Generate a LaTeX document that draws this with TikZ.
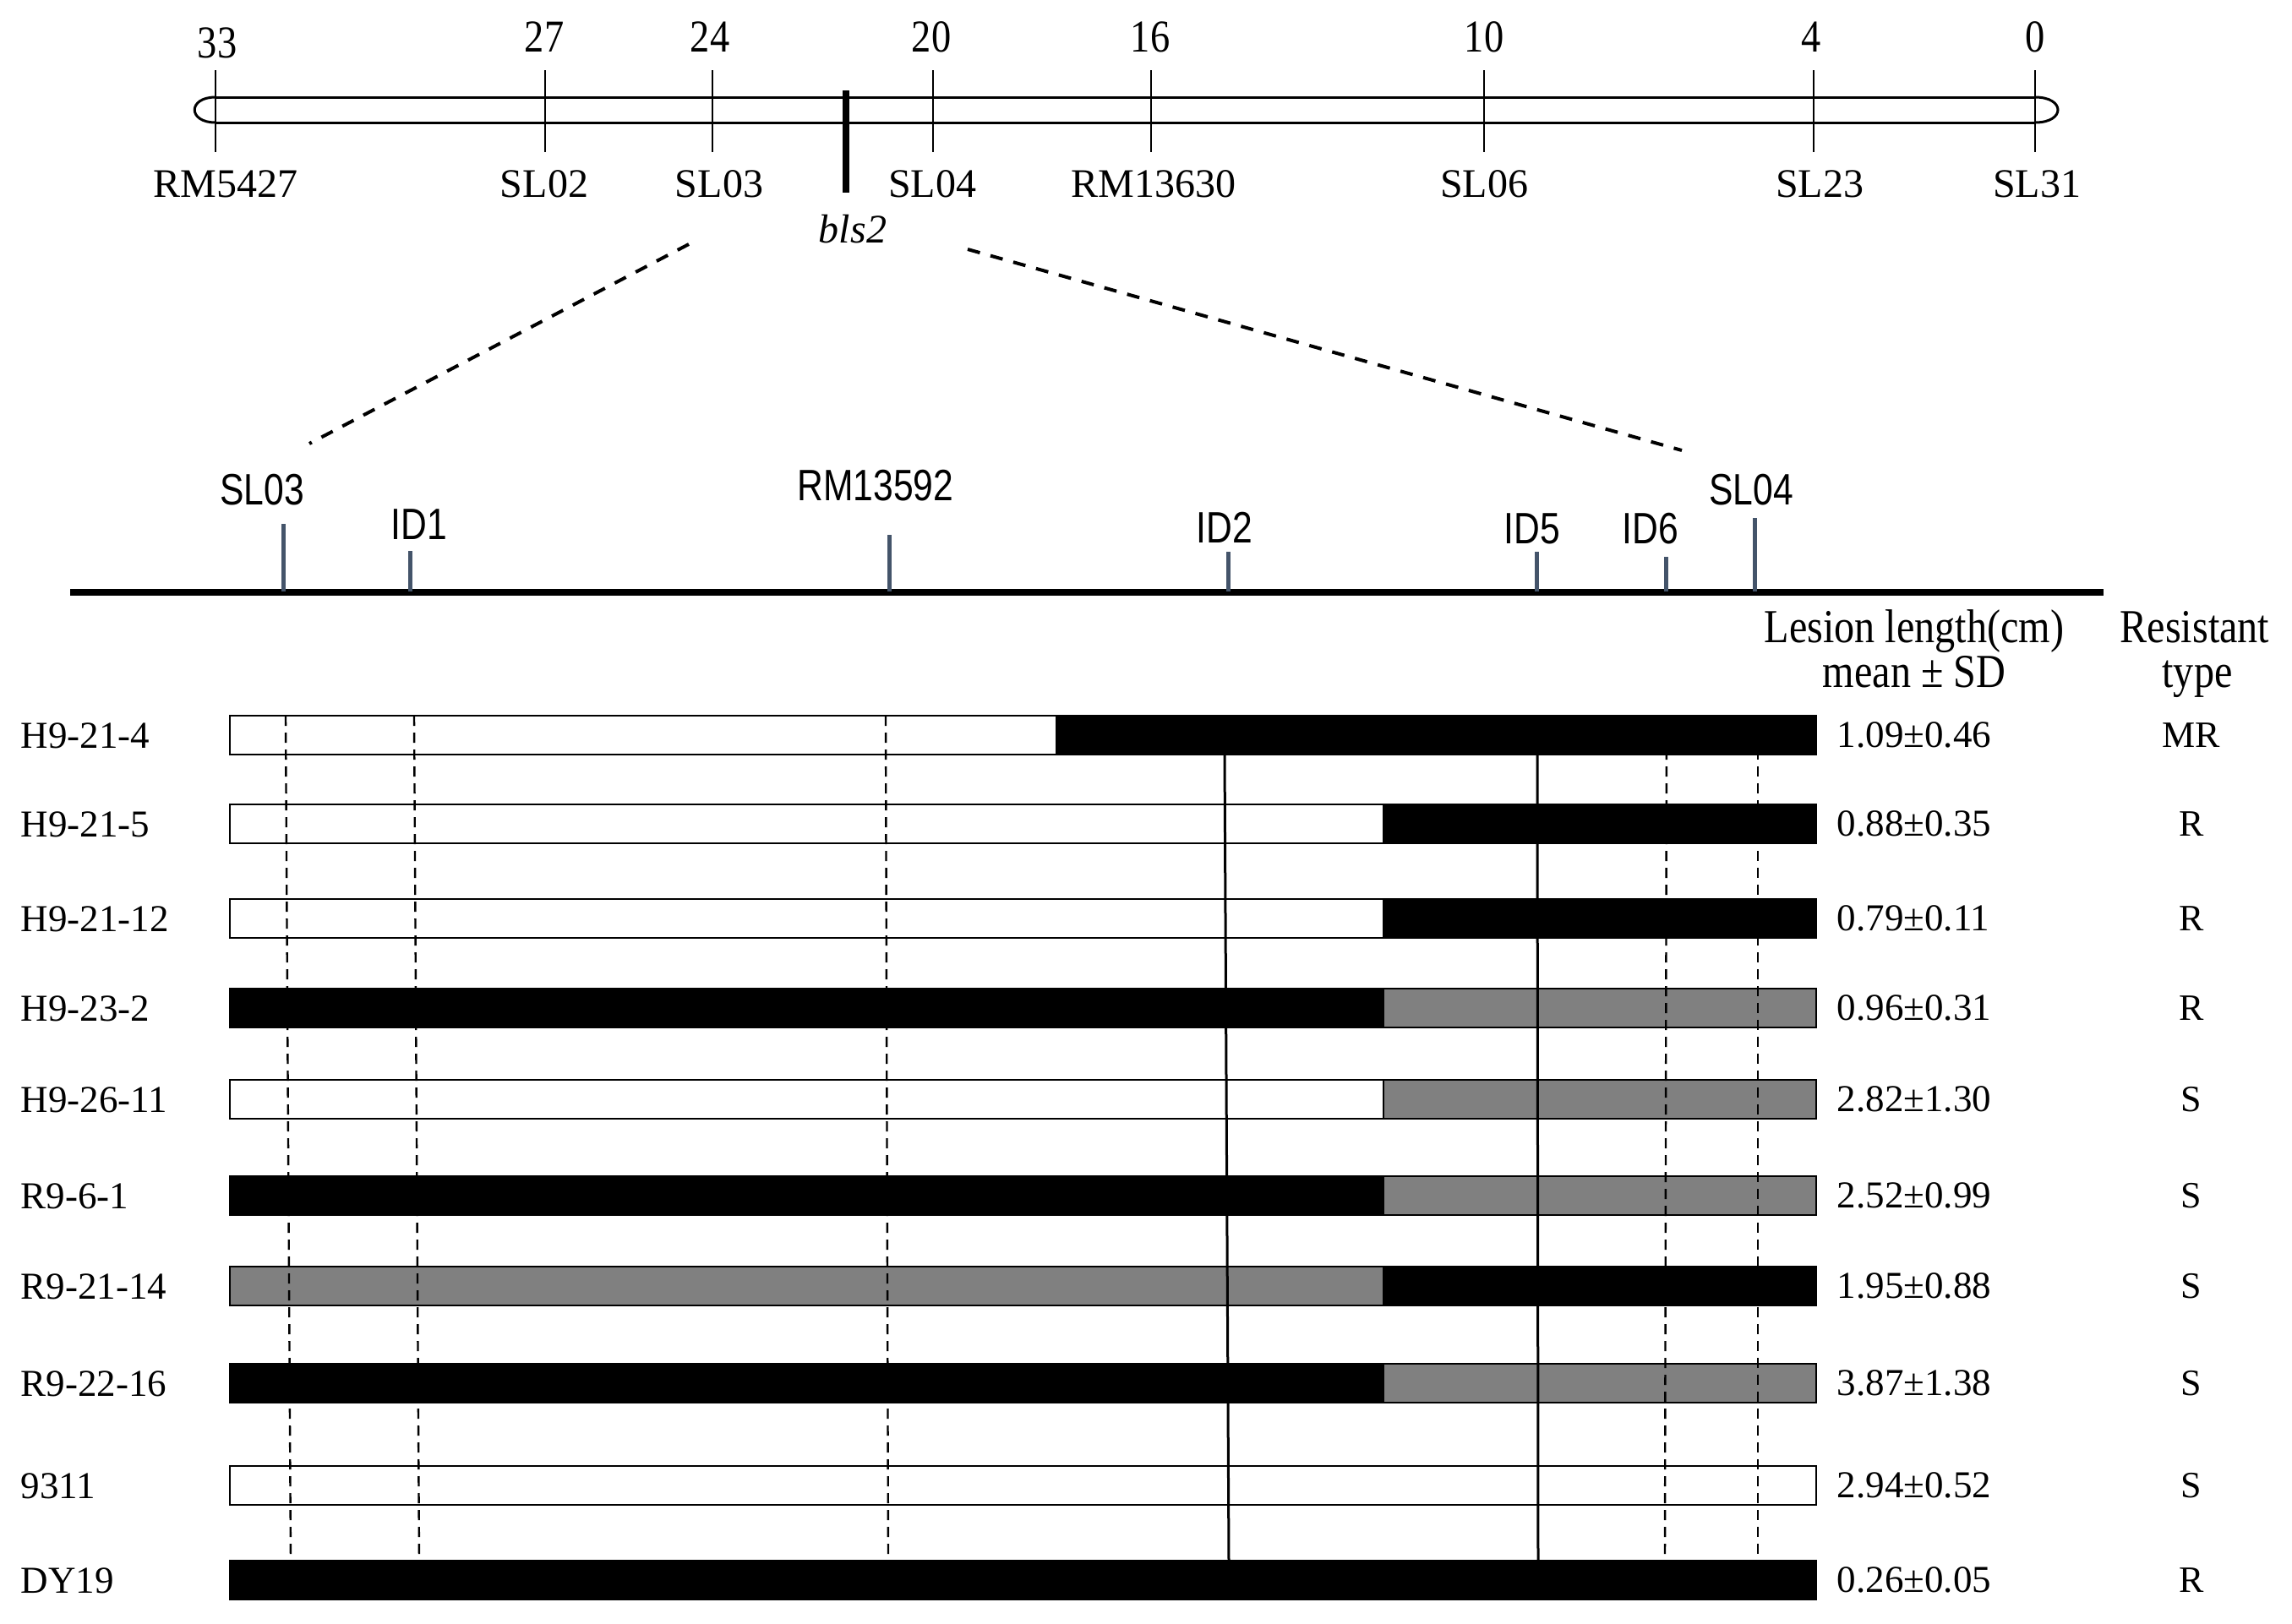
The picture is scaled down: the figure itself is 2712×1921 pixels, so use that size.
\documentclass[tikz,border=0pt]{standalone}
\usepackage{fontspec}
\setmainfont{Liberation Serif}
\newfontfamily\narrowsans[FakeStretch=0.82]{Liberation Sans}
\newfontfamily\tallserif[FakeStretch=0.86]{Liberation Serif}
\definecolor{tickblue}{RGB}{68,84,106}
\definecolor{midgray}{RGB}{128,128,128}
\begin{document}
\begin{tikzpicture}[x=0.25pt,y=-0.25pt,
  chrom/.style={line width=0.75pt},
  cmtick/.style={line width=0.65pt},
  num/.style={font=\tallserif\fontsize{13.5}{15}\selectfont, anchor=base, inner sep=0pt},
  toplab/.style={font=\fontsize{12}{14}\selectfont, anchor=base, inner sep=0pt},
  mlab/.style={font=\narrowsans\fontsize{13}{15}\selectfont, anchor=base, inner sep=0pt},
  mtick/.style={draw=tickblue, line width=1.25pt},
  seg/.style={draw=black, line width=0.7pt},
  rowlab/.style={font=\fontsize{11.25}{13}\selectfont, anchor=base west, inner sep=0pt},
  val/.style={font=\fontsize{11.25}{13}\selectfont, anchor=base west, inner sep=0pt},
  typ/.style={font=\fontsize{11}{13}\selectfont, anchor=base, inner sep=0pt},
  hdr/.style={font=\tallserif\fontsize{14}{16}\selectfont, anchor=base, inner sep=0pt},
  guidedash/.style={line width=0.6pt, dash pattern=on 3pt off 2pt},
  guidesolid/.style={line width=0.75pt},
  zoomline/.style={line width=1pt, dash pattern=on 3.75pt off 3.25pt}]
\useasboundingbox[fill=white] (0,0) rectangle (2712,1921);

% ---------- top linkage map ----------
\draw[chrom] (255,115) -- (2408,115);
\draw[chrom] (255,145) -- (2408,145);
\draw[chrom] (255,115) .. controls (222,115) and (222,145) .. (255,145);
\draw[chrom] (2408,115) .. controls (2444,115) and (2444,145) .. (2408,145);

\foreach \x/\n/\nx/\ny/\lab/\lx [count=\k] in {
  255/33/257/68/RM5427/267,
  645/27/644/61/SL02/644,
  843/24/840/61/SL03/851,
  1104/20/1102/61/SL04/1103,
  1362/16/1361/61/RM13630/1365,
  1756/10/1756/61/SL06/1756,
  2146/4/2143/61/SL23/2153,
  2408/0/2408/61/SL31/2410}{
  \draw[cmtick] (\x,83) -- (\x,180);
  \node[num] (cm\k) at (\nx,\ny) {\n};
  \node[toplab] (mk\k) at (\lx,233) {\lab};
}
\draw[line width=2pt] (1001,107) -- (1001,228);
\node[toplab, font=\itshape\fontsize{12}{14}\selectfont] (gene) at (1009,287) {bls2};

% zoom lines
\coordinate (zl1) at (815,289);
\coordinate (zl2) at (366,525);
\coordinate (zr1) at (1145,295);
\coordinate (zr2) at (1990,533);
\draw[zoomline] (zl1) -- (zl2);
\draw[zoomline] (zr1) -- (zr2);

% ---------- fine map ----------
\draw[line width=2pt] (83,701) -- (2489,701);
\foreach \x/\top/\lab/\lx/\ly [count=\k] in {
  335/620/SL03/310/597,
  485/652/ID1/496/638,
  1052/633/RM13592/1036/592,
  1453/653/ID2/1449/642,
  1818/653/ID5/1813/643,
  1971/659/ID6/1953/643,
  2076/613/SL04/2072/597}{
  \draw[mtick] (\x,\top) -- (\x,700);
  \node[mlab] (fm\k) at (\lx,\ly) {\lab};
}

% ---------- headers ----------
\node[hdr] (h1) at (2265,760) {Lesion length(cm)};
\node[hdr] (h2) at (2265,813) {mean \textpm{} SD};
\node[hdr] (h3) at (2597,760) {Resistant};
\node[hdr] (h4) at (2600,813) {type};

% ---------- graphical genotypes ----------
\foreach \yy/\lab/\ca/\cb/\sp/\val/\typ [count=\k] in {
  870/H9-21-4/white/black/1250/1.09±0.46/MR,
  975/H9-21-5/white/black/1637/0.88±0.35/R,
  1087/H9-21-12/white/black/1637/0.79±0.11/R,
  1193/H9-23-2/black/midgray/1637/0.96±0.31/R,
  1301/H9-26-11/white/midgray/1637/2.82±1.30/S,
  1415/R9-6-1/black/midgray/1637/2.52±0.99/S,
  1522/R9-21-14/midgray/black/1637/1.95±0.88/S,
  1637/R9-22-16/black/midgray/1637/3.87±1.38/S,
  1758/9311/white/white/2149/2.94±0.52/S,
  1870/DY19/black/black/2149/0.26±0.05/R}{
  \filldraw[seg, fill=\ca] (272,\yy-23) rectangle (\sp,\yy+23);
  \filldraw[seg, fill=\cb] (\sp,\yy-23) rectangle (2149,\yy+23);
  \node[rowlab] (row\k) at (24,\yy+15) {\lab};
  \node[val] (val\k) at (2173,\yy+14) {\val};
  \node[typ] (typ\k) at (2593,\yy+14) {\typ};
}

% guide lines
\foreach \xa/\xb [count=\k] in {338/344, 490/496, 1048/1051, 1972/1970, 2080/2080}{
  \coordinate (gd\k a) at (\xa,847);
  \coordinate (gd\k b) at (\xb,1847);
  \draw[guidedash] (gd\k a) -- (gd\k b);
}
\foreach \xa/\xb [count=\k] in {1449/1454, 1819/1820}{
  \coordinate (gs\k a) at (\xa,892);
  \coordinate (gs\k b) at (\xb,1847);
  \draw[guidesolid] (gs\k a) -- (gs\k b);
}
\end{tikzpicture}
\end{document}
